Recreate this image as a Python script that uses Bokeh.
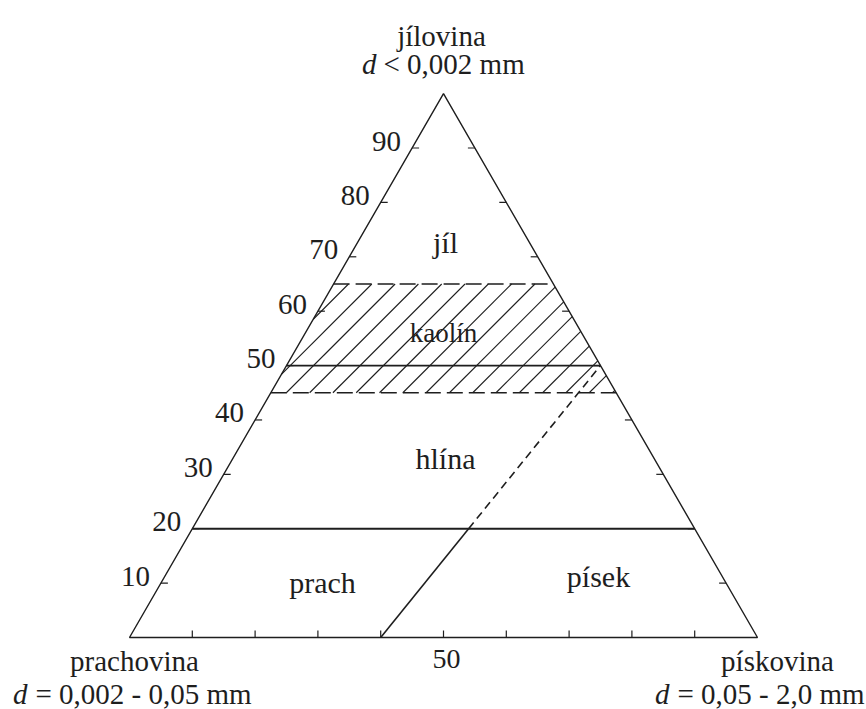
import math
from bokeh.plotting import figure
from bokeh.models import Range1d
from bokeh.core.properties import value
from bokeh.embed import file_html
from bokeh.resources import INLINE

# ---------------- data ----------------
clay_ticks = [10, 20, 30, 40, 50, 60, 70, 80, 90]
clay_tick_labels = ["10", "20", "30", "40", "50", "60", "70", "80", "90"]
sand_ticks = [10, 20, 30, 40, 50, 60, 70, 80, 90]
bottom_label_sand = [50]
bottom_label_text = ["50"]
boundary_clay = [20, 50]          # solid horizontal class limits
kaolin_band_clay = [45, 65]       # hatched kaolín band (dashed limits)
divider_sand = [40, 44, 50]       # prach / písek divider: solid then dashed
divider_clay = [0, 20, 50]
region_names = ["jíl", "hlína", "prach", "písek"]
band_name = ["kaolín"]
corner_names = ["jílovina", "prachovina", "pískovina"]
corner_sizes = ["< 0,002 mm", "= 0,002 - 0,05 mm", "= 0,05 - 2,0 mm"]

# ---------------- layout helpers ----------------
S = 628.0            # px per unit side
W, H = 866, 709
BLX, BLY = 129, 637  # page position of bottom-left corner
R3 = math.sqrt(3) / 2
TXT = 12             # baseline correction for text rendering (px)


def tern(sand, clay):
    s, c = sand / 100.0, clay / 100.0
    return s + c / 2.0, c * R3


def px(x):   # page x -> data x
    return (x - BLX) / S


def py(y):   # page y (text baseline) -> data y
    return (BLY - y + TXT) / S


X0 = -BLX / S
Y0 = -(H - BLY) / S

p = figure(width=W, height=H, x_range=Range1d(X0, X0 + W / S),
           y_range=Range1d(Y0, Y0 + H / S), output_backend="svg",
           toolbar_location=None, min_border=0, x_axis_type=None,
           y_axis_type=None)
p.grid.visible = False
p.outline_line_color = None
p.background_fill_color = "white"
p.border_fill_color = "white"

INK = "#1e1e1e"
FONT = value("Liberation Serif")

# triangle outline
tx, ty = zip(*[tern(0, 0), tern(100, 0), tern(0, 100)])
p.patch(list(tx), list(ty), fill_color=None, line_color=INK, line_width=1.4)

# ticks
TL = 7 / S
xs, ys = [], []
for c in clay_ticks:
    x, y = tern(0, c)
    xs.append([x, x + TL]); ys.append([y, y])
    x, y = tern(100 - c, c)
    xs.append([x, x - TL]); ys.append([y, y])
for s in sand_ticks:
    x, y = tern(s, 0)
    xs.append([x, x]); ys.append([y, y + TL])
p.multi_line(xs, ys, line_color=INK, line_width=1.2)

# solid class boundaries
bx, by = [], []
for c in boundary_clay:
    x1, y1 = tern(0, c)
    x2, y2 = tern(100 - c, c)
    bx.append([x1, x2]); by.append([y1, y2])
p.multi_line(bx, by, line_color=INK, line_width=1.8)

# dashed band limits
dx_, dy_ = [], []
for c in kaolin_band_clay:
    x1, y1 = tern(0, c)
    x2, y2 = tern(100 - c, c)
    dx_.append([x1, x2]); dy_.append([y1, y2])
p.multi_line(dx_, dy_, line_color=INK, line_width=1.7, line_dash="16 6")

# hatching of the band (45 deg lines clipped to band)
HSTEP = 23.3 / S
yl = tern(0, kaolin_band_clay[0])[1]
yh = tern(0, kaolin_band_clay[1])[1]
k0 = px(348) - yh
hx, hy = [], []
a = 1 - 1 / math.sqrt(3)
b = 1 + 1 / math.sqrt(3)
for n in range(-40, 60):
    k = k0 + n * HSTEP
    ya = max(yl, -k / a)
    yb = min(yh, (1 - k) / b)
    if yb - ya > 1e-4:
        hx.append([ya + k, yb + k]); hy.append([ya, yb])
p.multi_line(hx, hy, line_color=INK, line_width=1.1)

# divider prach/písek
sx, sy = zip(*[tern(divider_sand[i], divider_clay[i]) for i in range(2)])
p.line(list(sx), list(sy), line_color=INK, line_width=1.6)
ex, ey = zip(*[tern(divider_sand[i], divider_clay[i]) for i in range(1, 3)])
p.line(list(ex), list(ey), line_color=INK, line_width=1.6, line_dash="8 5")

# left tick labels
lx, ly = [], []
for c in clay_ticks:
    x, y = tern(0, c)
    lx.append(x - 11 / S); ly.append(y + (TXT - 5) / S)
p.text(lx, ly, text=clay_tick_labels, text_font=FONT,
       text_font_size=value("29px"), text_align="right",
       text_baseline="alphabetic", text_color=INK)

# bottom tick label
blx = [tern(s, 0)[0] + 3 / S for s in bottom_label_sand]
p.text(blx, [py(670)], text=bottom_label_text, text_font=FONT,
       text_font_size=value("28px"), text_align="center",
       text_baseline="alphabetic", text_color=INK)

# region labels
rx = [px(445), px(445), px(322), px(598)]
ry = [py(254), py(470), py(594), py(588)]
p.text(rx, ry, text=region_names, text_font=FONT,
       text_font_size=value("30px"), text_align="center",
       text_baseline="alphabetic", text_color=INK)
p.text([px(443)], [py(344)], text=band_name, text_font=FONT,
       text_font_size=value("27px"), text_align="center",
       text_baseline="alphabetic", text_color=INK)

# corner names
cx = [px(441), px(134), px(777)]
cy = [py(47), py(672), py(672)]
p.text(cx, cy, text=corner_names, text_font=FONT,
       text_font_size=value("29px"), text_align="center",
       text_baseline="alphabetic", text_color=INK)

# corner size ranges: italic d + rest
dxs = [px(376), px(27), px(669)]
dys = [py(75), py(705), py(705)]
p.text(dxs, dys, text=["d", "d", "d"], text_font=FONT,
       text_font_size=value("29px"), text_font_style="italic",
       text_align="right", text_baseline="alphabetic", text_color=INK)
rxs = [px(383), px(35), px(677)]
p.text(rxs, dys, text=corner_sizes, text_font=FONT,
       text_font_size=value("29px"), text_align="left",
       text_baseline="alphabetic", text_color=INK)

open("out.html", "w").write(file_html(p, INLINE))
